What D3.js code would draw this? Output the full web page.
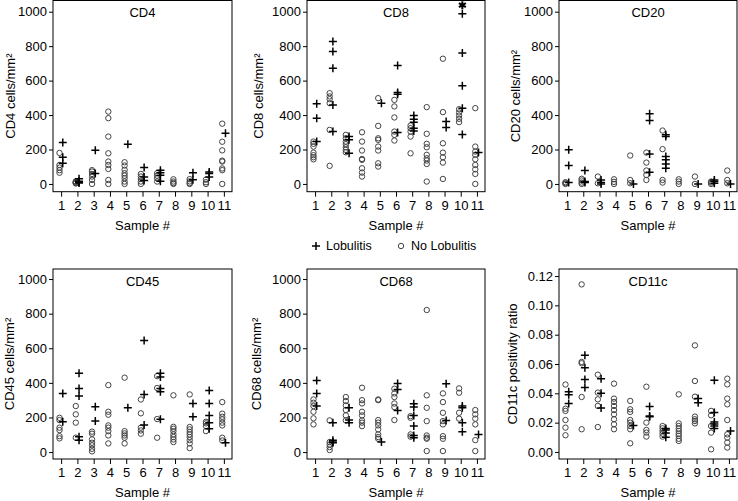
<!DOCTYPE html>
<html><head><meta charset="utf-8">
<script src="https://cdn.jsdelivr.net/npm/d3@7"></script>
<style>
html,body{margin:0;padding:0;background:#fff;}
svg{display:block;font-family:"Liberation Sans",Arial,sans-serif;}
</style></head>
<body><svg id="chart" width="738" height="501"></svg>
<script>
const samples = [1,2,3,4,5,6,7,8,9,10,11];
const countTicks = [0,200,400,600,800,1000];
const ratioTicks = [0,0.02,0.04,0.06,0.08,0.10,0.12];

const cd4Lob = [[240,155,120],[30,15,10,5],[195,60],[],[230],[95,40,20],[80,65,50,15],[],[65,25],[70,60,40],[295]];
const cd4No = [[180,110,95,80,65],[15,12,8,5,3],[80,72,58,43,23,0],[420,382,275,178,130,110,87,23,0],[126,107,82,62,48,33,14,0],[58,43,29,14,0],[62,48,33,14],[27,14,5,0],[28,15,5,0],[25,10,0],[350,245,195,135,130,90,80,0]];

const cd8Lob = [[465,382,246],[827,769,672,459,304],[275,256,178],[],[469],[688,531,521,298],[397,376,358,324,308],[],[362,328],[988,760,570,440,287],[182]];
const cd8No = [[246,233,217,182,167,155,143],[527,508,492,469,314,105],[285,265,246,231,213,198,184],[300,246,194,145,140,91,66,43],[498,337,265,256,217,194,120,101],[488,450,386,304,285,252],[339,324,304,275,178],[446,291,233,213,169,149,136,116,14],[727,417,236,182,155,124,29],[434,415,397,378,359],[440,217,188,169,143,110,85,58,0]];
const cd8Star = [{sample:10, value:1038}];

const cd20Lob = [[198,107,8],[78,14,8],[23,8,0],[],[0],[407,368,174,68],[285,275,159,140,116,91],[],[0],[23,14,4],[0]];
const cd20No = [[10,5,0],[30,20,8,0],[43,4],[27,12,0],[165,23,4],[182,124,78,52,23],[310,202,23,8],[27,14,0],[43,0],[14,8,0],[78,23,4]];

const cd45Lob = [[339,175],[455,368,324,89,69],[262,179],[],[256],[645,333,156],[455,434,368,349,189],[],[281,204],[356,281,212,170,135],[54]];
const cd45No = [[198,185,141,127,92,79],[266,218,170,83],[118,106,73,54,39,19,4],[387,233,216,154,141,121,96,50],[430,121,108,96,83,50],[304,224,141,125,106],[439,370,191,83],[328,146,135,121,102,87,73,58],[333,145,131,116,102,87,69,50,23],[175,166,150,121],[289,222,204,189,170,154,83,67]];

const cd68Lob = [[414,339,266],[170,69,58,54],[256,185,170],[],[58],[397,362,241],[279,260,212,150,96,83],[],[395,183],[266,256,170,118],[102]];
const cd68No = [[304,285,266,233,195,160],[183,58,44,29,12],[318,295,270,243,212,183],[372,300,281,233,212,183,170,150],[304,300,185,170,154,131,102,87,77],[366,339,318,281,260,185],[208,198,102,89],[821,328,256,179,96,83,77,6],[339,289,227,179,160,92,77,6],[368,343,227,193],[243,218,193,160,69,6]];

const cd11cLob = [[0.041,0.039,0.033],[0.066,0.0575,0.0495,0.044],[0.050,0.040,0.030],[],[0.018],[0.031,0.0245,0.024],[0.016,0.015,0.013,0.010],[],[0.0364,0.0336],[0.049,0.027,0.0205,0.019,0.0177,0.016],[0.0143]];
const cd11cNo = [[0.046,0.0295,0.028,0.0218,0.0166,0.0114],[0.1143,0.0614,0.0605,0.0375,0.0155],[0.0527,0.0405,0.0359,0.0314,0.017],[0.0466,0.0364,0.0341,0.0314,0.0286,0.0257,0.0223,0.0189,0.0155],[0.0348,0.0291,0.0273,0.0218,0.02,0.0177,0.0155,0.0059],[0.0445,0.02,0.015,0.0132,0.0105],[0.0177,0.0161,0.0143,0.0125,0.0105],[0.0393,0.0195,0.0177,0.0159,0.0143,0.0125,0.011,0.009,0.0075],[0.0727,0.0484,0.0377,0.0241,0.0223,0.0211,0.0195],[0.028,0.025,0.0177,0.0132,0.0018],[0.05,0.0461,0.0364,0.0325,0.0218,0.012,0.0098,0.0064,0.003]];

const legendLabels = ["Lobulitis","No Lobulitis"];

const panels = [
  {title:"CD4", ylab:"CD4 cells/mm\u00B2", lob:cd4Lob, no:cd4No, ticks:countTicks, fmt:d3.format("d"), dom:[-45,1065], x:53, y:0.5, w:179, h:191.2, labx:10},
  {title:"CD8", ylab:"CD8 cells/mm\u00B2", lob:cd8Lob, no:cd8No, ticks:countTicks, fmt:d3.format("d"), dom:[-45,1065], x:307, y:0.5, w:178, h:191.2, labx:258, star:cd8Star},
  {title:"CD20", ylab:"CD20 cells/mm\u00B2", lob:cd20Lob, no:cd20No, ticks:countTicks, fmt:d3.format("d"), dom:[-45,1065], x:559, y:0.5, w:178, h:191.2, labx:515},
  {title:"CD45", ylab:"CD45 cells/mm\u00B2", lob:cd45Lob, no:cd45No, ticks:countTicks, fmt:d3.format("d"), dom:[-40,1058], x:53, y:269, w:179, h:190, labx:9},
  {title:"CD68", ylab:"CD68 cells/mm\u00B2", lob:cd68Lob, no:cd68No, ticks:countTicks, fmt:d3.format("d"), dom:[-40,1058], x:307, y:269, w:178, h:190, labx:256},
  {title:"CD11c", ylab:"CD11c positivity ratio", lob:cd11cLob, no:cd11cNo, ticks:ratioTicks, fmt:d3.format(".2f"), dom:[-0.0048,0.1248], x:559, y:269, w:178, h:190, labx:512}
];

const svg = d3.select("#chart");
const circleColor = "#444";
const circleR = 2.7;
const plusSize = 4;
const plusPath = "M-"+plusSize+",0H"+plusSize+"M0,-"+plusSize+"V"+plusSize;
const starPath = d3.symbol(d3.symbolAsterisk, 45)();

panels.forEach(p => {
  const g = svg.append("g");
  const xs = d3.scaleLinear().domain([0.5,11.5]).range([p.x, p.x+p.w]);
  const ys = d3.scaleLinear().domain(p.dom).range([p.y+p.h, p.y]);

  const yAxis = d3.axisLeft(ys).tickValues(p.ticks).tickFormat(p.fmt).tickSize(4).tickPadding(2);
  const ya = g.append("g").attr("transform",`translate(${p.x},0)`).call(yAxis);
  const xAxis = d3.axisBottom(xs).tickValues(samples).tickFormat(d3.format("d")).tickSize(5).tickPadding(4);
  const xa = g.append("g").attr("transform",`translate(0,${p.y+p.h})`).call(xAxis);
  [ya,xa].forEach(a=>{
    a.select(".domain").remove();
    a.selectAll("line").attr("stroke","#000").attr("stroke-width",1);
    a.selectAll("text").attr("font-size","13px").attr("fill","#000").attr("font-family","Liberation Sans, Arial, sans-serif");
  });

  g.append("rect").attr("x",p.x).attr("y",p.y).attr("width",p.w).attr("height",p.h)
    .attr("fill","none").attr("stroke","#000").attr("stroke-width",1);

  g.append("text").attr("x",p.x+p.w/2).attr("y",p.y+16.5).attr("text-anchor","middle")
    .attr("font-size","13px").text(p.title);

  g.append("text").attr("transform",`translate(${p.labx},${p.y+p.h/2}) rotate(-90)`)
    .attr("text-anchor","middle").attr("dy","0.35em").attr("font-size","13px").text(p.ylab);

  g.append("text").attr("x",p.x+p.w/2).attr("y",p.y+p.h+38).attr("text-anchor","middle")
    .attr("font-size","13px").text("Sample #");

  const noPts = [];
  p.no.forEach((vals,i)=>vals.forEach(v=>noPts.push({s:samples[i], v})));
  g.selectAll("circle.no").data(noPts).join("circle").attr("class","no")
    .attr("cx",d=>xs(d.s-0.1)).attr("cy",d=>ys(d.v)).attr("r",circleR)
    .attr("fill","none").attr("stroke",circleColor).attr("stroke-width",1);

  const lobPts = [];
  p.lob.forEach((vals,i)=>vals.forEach(v=>lobPts.push({s:samples[i], v})));
  g.selectAll("path.lob").data(lobPts).join("path").attr("class","lob")
    .attr("transform",d=>`translate(${xs(d.s+0.1)},${ys(d.v)})`)
    .attr("d",plusPath).attr("stroke","#000").attr("stroke-width",1.5).attr("fill","none");

  if (p.star) {
    g.selectAll("path.star").data(p.star).join("path").attr("class","star")
      .attr("transform",d=>`translate(${xs(d.sample+0.1)},${ys(d.value)})`)
      .attr("d",starPath).attr("stroke","#000").attr("stroke-width",2).attr("fill","none");
  }
});

const lg = svg.append("g");
lg.append("path").attr("transform","translate(316,246)").attr("d",plusPath)
  .attr("stroke","#000").attr("stroke-width",1.5);
lg.append("text").attr("x",326).attr("y",246).attr("dy","0.35em").attr("font-size","12.5px").text(legendLabels[0]);
lg.append("circle").attr("cx",401).attr("cy",246).attr("r",circleR).attr("fill","none").attr("stroke",circleColor);
lg.append("text").attr("x",411).attr("y",246).attr("dy","0.35em").attr("font-size","12.5px").text(legendLabels[1]);
</script>
</body></html>
